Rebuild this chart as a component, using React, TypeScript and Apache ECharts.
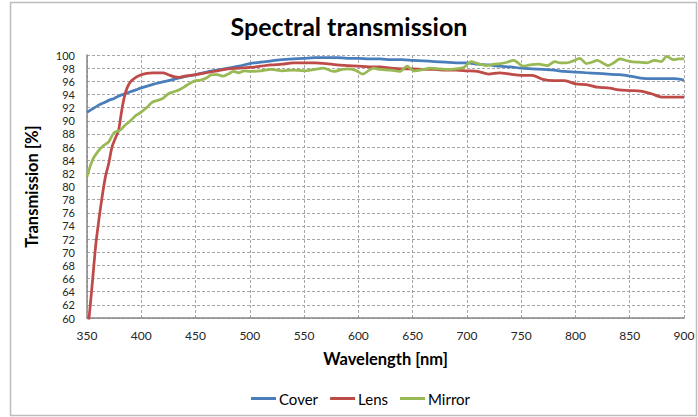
import React, { useEffect, useRef } from "react";
import * as echarts from "echarts";

const wavelengths = [
  350, 355, 360, 365, 370, 375, 380, 385, 390, 395, 400, 410, 420, 430, 440, 450, 460, 470, 480, 490,
  500, 510, 520, 530, 540, 550, 560, 570, 580, 590, 600, 610, 620, 630, 640, 650, 660, 670, 680, 690,
  700, 710, 720, 730, 740, 750, 760, 770, 780, 790, 800, 810, 820, 830, 840, 850, 860, 870, 880, 890, 900,
];
const cover = [
  91.3, 91.8, 92.3, 92.7, 93.1, 93.4, 93.8, 94.1, 94.4, 94.7, 95.0, 95.5, 95.9, 96.3, 96.7, 97.0, 97.4, 97.7, 98.0, 98.3,
  98.7, 98.9, 99.1, 99.3, 99.4, 99.5, 99.6, 99.6, 99.6, 99.5, 99.5, 99.4, 99.4, 99.3, 99.3, 99.2, 99.1, 99.0, 98.9, 98.8,
  98.8, 98.6, 98.5, 98.3, 98.2, 98.0, 97.9, 97.8, 97.7, 97.5, 97.4, 97.3, 97.2, 97.1, 97.0, 96.8, 96.5, 96.4, 96.4, 96.4, 96.2,
];

const lensWavelengths = [
  350, 352, 355, 358, 361, 364, 367, 370, 373, 376, 379, 381, 383, 385, 387, 390, 395, 400, 405, 410,
  420, 425, 430, 435, 440, 450, 460, 470, 480, 490, 500, 510, 520, 530, 540, 550, 560, 570, 580, 590,
  600, 610, 620, 630, 640, 650, 660, 670, 680, 690, 700, 710, 720, 730, 740, 750, 760, 770, 780, 790,
  800, 810, 820, 830, 840, 850, 860, 870, 880, 890, 900,
];
const lens = [
  57.0, 60.2, 65.5, 71.0, 75.0, 78.5, 81.5, 83.5, 86.0, 87.3, 88.5, 90.5, 92.5, 94.0, 95.0, 95.9, 96.6, 97.0, 97.2, 97.3,
  97.3, 97.0, 96.7, 96.6, 96.8, 97.0, 97.3, 97.6, 97.9, 98.0, 98.1, 98.3, 98.5, 98.6, 98.8, 98.8, 98.8, 98.7, 98.5, 98.4,
  98.3, 98.2, 98.2, 98.0, 97.9, 97.9, 97.8, 97.8, 97.7, 97.7, 97.6, 97.5, 97.1, 97.3, 97.1, 96.9, 96.9, 96.3, 96.1, 96.1,
  95.6, 95.5, 95.1, 95.0, 94.7, 94.6, 94.5, 94.1, 93.6, 93.6, 93.6,
];

const mirrorWavelengths = [
  350, 355, 360, 365, 370, 375, 380, 385, 390, 395, 400, 405, 410, 415, 420, 425, 430, 435, 440, 445,
  450, 455, 460, 465, 470, 475, 480, 485, 490, 495, 500, 510, 520, 530, 540, 550, 560, 568, 577, 585,
  590, 597, 604, 610, 614, 620, 630, 638, 645, 651, 660, 666, 675, 682, 690, 697, 704, 710, 718, 725,
  731, 737, 743, 752, 758, 766, 774, 781, 786, 792, 798, 804, 810, 815, 820, 825, 830, 836, 841, 846,
  851, 858, 866, 873, 879, 884, 890, 895, 900,
];
const mirror = [
  81.5, 84.0, 85.3, 86.2, 86.8, 88.2, 88.5, 89.3, 90.0, 90.8, 91.3, 92.0, 92.8, 93.1, 93.4, 94.1, 94.4, 94.7, 95.2, 95.7,
  96.1, 96.2, 96.5, 97.0, 97.0, 96.8, 97.1, 97.5, 97.3, 97.6, 97.5, 97.6, 97.8, 97.6, 97.7, 97.6, 97.8, 98.0, 97.5, 97.8,
  97.9, 97.7, 97.1, 97.7, 98.0, 97.8, 97.7, 97.5, 98.3, 97.6, 97.8, 98.0, 97.9, 97.8, 97.9, 98.1, 99.0, 98.7, 98.4, 98.6,
  98.7, 98.9, 99.2, 98.3, 98.5, 98.6, 98.4, 99.0, 98.8, 98.8, 99.1, 99.5, 98.7, 98.9, 99.2, 98.8, 98.4, 98.9, 99.4, 99.2,
  99.0, 98.9, 98.8, 99.2, 99.0, 99.8, 99.3, 99.4, 99.4,
];

const seriesNames = ["Cover", "Lens", "Mirror"];
const seriesColors = ["#4a7ebb", "#be4b48", "#98b954"];

const FONT = "Lato, 'Open Sans', sans-serif";

export default function App() {
  const ref = useRef<HTMLDivElement>(null);
  useEffect(() => {
    if (!ref.current) return;
    const chart = echarts.init(ref.current, undefined, { renderer: "svg" });
    const pairs = (xs: number[], ys: number[]) => xs.map((x, i) => [x, ys[i]]);
    const datasets = [
      pairs(wavelengths, cover),
      pairs(lensWavelengths, lens),
      pairs(mirrorWavelengths, mirror),
    ];
    chart.setOption({
      animation: false,
      backgroundColor: "#ffffff",
      textStyle: { fontFamily: FONT },
      graphic: [
        {
          type: "rect",
          shape: { x: 10.5, y: 2.5, width: 686, height: 413 },
          style: { fill: "none", stroke: "#bdbdbd", lineWidth: 1.5 },
          silent: true,
        },
      ],
      title: {
        text: "Spectral transmission",
        left: "center",
        top: 8,
        textStyle: { fontFamily: FONT, fontSize: 25, fontWeight: "bold", color: "#000000" },
      },
      legend: {
        data: seriesNames,
        left: 246,
        top: 386,
        itemWidth: 25,
        itemHeight: 3,
        itemGap: 12,
        icon: "rect",
        textStyle: { fontFamily: FONT, fontSize: 15, color: "#000000", padding: [0, 0, 0, -2] },
      },
      grid: { left: 87, right: 14, top: 55, bottom: 99, containLabel: false },
      xAxis: {
        type: "value",
        min: 350,
        max: 900,
        interval: 50,
        name: "Wavelength [nm]",
        nameLocation: "middle",
        nameGap: 32,
        nameTextStyle: { fontFamily: FONT, fontSize: 16.5, fontWeight: "bold", color: "#000000" },
        axisLine: { show: true, lineStyle: { color: "#868686", width: 1.5 } },
        axisTick: { show: false },
        axisLabel: { fontFamily: FONT, fontSize: 12, color: "#262626", margin: 11 },
        splitLine: { show: true, lineStyle: { color: "#a6a6a6", type: [3, 2], width: 1 } },
      },
      yAxis: {
        type: "value",
        min: 60,
        max: 100,
        interval: 2,
        name: "Transmission [%]",
        nameLocation: "middle",
        nameGap: 47,
        nameTextStyle: { fontFamily: FONT, fontSize: 16.5, fontWeight: "bold", color: "#000000" },
        axisLine: { show: true, lineStyle: { color: "#868686", width: 1.5 } },
        axisTick: { show: false },
        axisLabel: { fontFamily: FONT, fontSize: 11, lineHeight: 12, color: "#262626", margin: 12 },
        splitLine: { show: true, lineStyle: { color: "#a6a6a6", type: [3, 2], width: 1 } },
      },
      series: seriesNames.map((name, i) => ({
        name,
        type: "line",
        data: datasets[i],
        showSymbol: false,
        symbol: "none",
        clip: true,
        smooth: 0.3,
        lineStyle: { color: seriesColors[i], width: 2.75 },
        itemStyle: { color: seriesColors[i] },
      })),
    });
    return () => chart.dispose();
  }, []);
  return (
    <div
      ref={ref}
      style={{ position: "absolute", left: 0, top: 0, width: 698, height: 417 }}
    />
  );
}
